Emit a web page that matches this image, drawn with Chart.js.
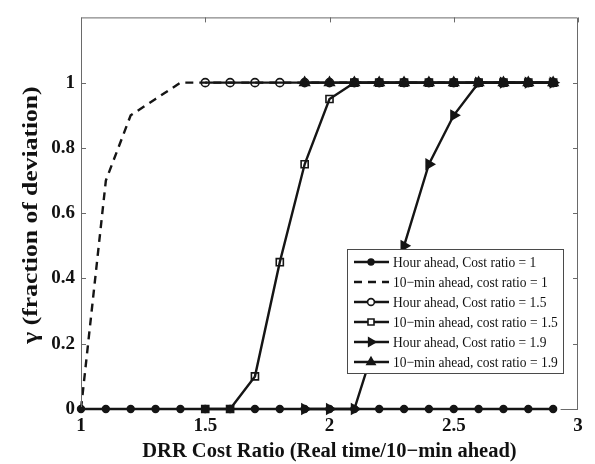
<!DOCTYPE html>
<html>
<head>
<meta charset="utf-8">
<script src="https://cdn.jsdelivr.net/npm/chart.js@4/dist/chart.umd.min.js"></script>
<style>
    html, body { margin: 0; padding: 0; background: #ffffff; }
    #wrap { width: 595px; height: 464px; position: relative; }
</style>
</head>
<body>
<div id="wrap"><canvas id="gammaChart"></canvas></div>
<script>
/* DRR cost ratio vs gamma - Chart.js */

const costRatio = [1.0, 1.1, 1.2, 1.3, 1.4, 1.5, 1.6, 1.7, 1.8, 1.9, 2.0, 2.1, 2.2, 2.3, 2.4, 2.5, 2.6, 2.7, 2.8, 2.9];

const hourAhead1 = [0, 0, 0, 0, 0, 0, 0, 0, 0, 0, 0, 0, 0, 0, 0, 0, 0, 0, 0, 0];
const tenMin1 = [0, 0.7, 0.9, 0.95, 1, 1, 1, 1, 1, 1, 1, 1, 1, 1, 1, 1, 1, 1, 1, 1];
const hourAhead15 = [null, null, null, null, null, 1, 1, 1, 1, 1, 1, 1, 1, 1, 1, 1, 1, 1, 1, 1];
const tenMin15 = [null, null, null, null, null, 0, 0, 0.1, 0.45, 0.75, 0.95, 1, 1, 1, 1, 1, 1, 1, 1, 1];
const hourAhead19 = [null, null, null, null, null, null, null, null, null, 0, 0, 0, 0.24, 0.5, 0.75, 0.9, 1, 1, 1, 1];
const tenMin19 = [null, null, null, null, null, null, null, null, null, 1, 1, 1, 1, 1, 1, 1, 1, 1, 1, 1];

const seriesLabels = [
    "Hour ahead, Cost ratio = 1",
    "10\u2212min ahead, cost ratio = 1",
    "Hour ahead, Cost ratio = 1.5",
    "10\u2212min ahead, cost ratio = 1.5",
    "Hour ahead, Cost ratio = 1.9",
    "10\u2212min ahead, cost ratio = 1.9"
];

const xTicks = [1, 1.5, 2, 2.5, 3];
const yTicks = [0, 0.2, 0.4, 0.6, 0.8, 1];

const xTitle = "DRR Cost Ratio (Real time/10\u2212min ahead)";
const yTitle = "\u03B3 (fraction of deviation)";

const INK = "#151515";
const AXIS = "#6a6a6a";
const SERIF = "'Liberation Serif', 'Times New Roman', serif";

function toPoints(values) {
    return costRatio.map((x, i) => ({ x: x, y: values[i] }));
}

const styles = [
    { pointStyle: "circle", radius: 3.4, fill: INK, dash: [] },
    { pointStyle: false, radius: 0, fill: INK, dash: [8, 6] },
    { pointStyle: "circle", radius: 4, fill: "rgba(255,255,255,0)", dash: [] },
    { pointStyle: "rect", radius: 5, fill: "rgba(255,255,255,0)", dash: [] },
    { pointStyle: "triangle", radius: 5.5, fill: INK, dash: [], rotation: 90 },
    { pointStyle: "triangle", radius: 5.5, fill: INK, dash: [] }
];

const seriesValues = [hourAhead1, tenMin1, hourAhead15, tenMin15, hourAhead19, tenMin19];

const datasets = seriesValues.map((values, i) => ({
    label: seriesLabels[i],
    data: toPoints(values),
    borderColor: INK,
    borderWidth: 2.4,
    borderDash: styles[i].dash,
    pointStyle: styles[i].pointStyle,
    pointRadius: styles[i].radius,
    pointRotation: styles[i].rotation || 0,
    pointBackgroundColor: styles[i].fill,
    pointBorderColor: INK,
    pointBorderWidth: 1.6,
    spanGaps: false,
    tension: 0,
    fill: false,
    clip: false,
    order: 10 - i
}));

// box, inward ticks, y title and legend drawn like the MATLAB figure
const framePlugin = {
    id: "frame",
    afterDatasetsDraw(chart) {
        const ctx = chart.ctx;
        const area = chart.chartArea;
        const xs = chart.scales.x;
        const ys = chart.scales.y;

        ctx.save();
        ctx.strokeStyle = AXIS;
        ctx.lineWidth = 1;
        ctx.beginPath();
        ctx.moveTo(area.left + 0.5, area.bottom - 2);
        ctx.lineTo(area.left + 0.5, area.top + 0.5);
        ctx.lineTo(area.right - 0.5, area.top + 0.5);
        ctx.lineTo(area.right - 0.5, area.bottom + 0.5);
        ctx.lineTo(xs.getPixelForValue(2.93), area.bottom + 0.5);
        ctx.stroke();

        ctx.beginPath();
        xTicks.forEach(v => {
            const px = Math.round(xs.getPixelForValue(v)) + 0.5;
            ctx.moveTo(px, area.top);
            ctx.lineTo(px, area.top + 5);
        });
        yTicks.forEach(v => {
            const py = Math.round(ys.getPixelForValue(v)) + 0.5;
            ctx.moveTo(area.right, py);
            ctx.lineTo(area.right - 5, py);
            if (v > 0) {
                ctx.moveTo(area.left, py);
                ctx.lineTo(area.left + 5, py);
            }
        });
        ctx.stroke();

        // y axis title, stretched along its length as in the figure
        ctx.save();
        ctx.translate(32, 215);
        ctx.rotate(-Math.PI / 2);
        ctx.scale(1.28, 1);
        ctx.font = "bold 20px " + SERIF;
        ctx.fillStyle = "#111111";
        ctx.textAlign = "center";
        ctx.textBaseline = "middle";
        ctx.fillText(yTitle, 0, 0);
        ctx.restore();

        // legend
        const boxLeft = 347, boxTop = 249, boxW = 216, boxH = 124, rowH = 20;
        ctx.fillStyle = "#ffffff";
        ctx.fillRect(boxLeft, boxTop, boxW, boxH);
        ctx.strokeStyle = "#4a4a4a";
        ctx.strokeRect(boxLeft + 0.5, boxTop + 0.5, boxW, boxH);

        datasets.forEach((ds, i) => {
            const cy = boxTop + 13 + i * rowH;
            ctx.strokeStyle = INK;
            ctx.lineWidth = 2.4;
            ctx.setLineDash(ds.borderDash);
            ctx.beginPath();
            ctx.moveTo(boxLeft + 7, cy);
            ctx.lineTo(boxLeft + 42, cy);
            ctx.stroke();
            ctx.setLineDash([]);
            if (ds.pointStyle) {
                ctx.lineWidth = ds.pointBorderWidth;
                ctx.fillStyle = ds.pointBackgroundColor === INK ? INK : "#ffffff";
                Chart.helpers.drawPoint(ctx, {
                    pointStyle: ds.pointStyle,
                    radius: ds.pointRadius * 0.85,
                    rotation: ds.pointRotation,
                    borderWidth: ds.pointBorderWidth
                }, boxLeft + 24, cy);
            }
            ctx.save();
            ctx.translate(boxLeft + 46, cy + 1);
            ctx.scale(0.9, 1);
            ctx.font = "15px " + SERIF;
            ctx.textBaseline = "middle";
            ctx.textAlign = "left";
            ctx.fillStyle = "#111111";
            ctx.fillText(ds.label, 0, 0);
            ctx.restore();
        });
        ctx.restore();
    }
};

new Chart(document.getElementById("gammaChart"), {
    type: "line",
    data: { datasets: datasets },
    options: {
        responsive: true,
        maintainAspectRatio: false,
        animation: false,
        layout: { padding: { left: 0, top: 16, right: 17, bottom: 0 } },
        plugins: {
            legend: { display: false },
            tooltip: { enabled: false }
        },
        scales: {
            x: {
                type: "linear",
                min: 1,
                max: 3,
                grid: { display: false, drawTicks: false },
                border: { display: false },
                afterFit(scale) { scale.height = 55; },
                afterBuildTicks(scale) { scale.ticks = xTicks.map(v => ({ value: v })); },
                ticks: {
                    padding: 6,
                    color: "#111111",
                    font: { family: SERIF, size: 19, weight: "bold" },
                    callback: v => String(v)
                },
                title: {
                    display: true,
                    text: xTitle,
                    color: "#111111",
                    padding: { top: 0, bottom: 0 },
                    font: { family: SERIF, size: 20.5, weight: "bold" }
                }
            },
            y: {
                type: "linear",
                min: 0,
                max: 1.2,
                grid: { display: false, drawTicks: false },
                border: { display: false },
                afterFit(scale) { scale.width = 81; },
                afterBuildTicks(scale) { scale.ticks = yTicks.map(v => ({ value: v })); },
                ticks: {
                    padding: 6,
                    color: "#111111",
                    font: { family: SERIF, size: 19, weight: "bold" },
                    callback: v => String(v)
                }
            }
        }
    },
    plugins: [framePlugin]
});
</script>
</body>
</html>
